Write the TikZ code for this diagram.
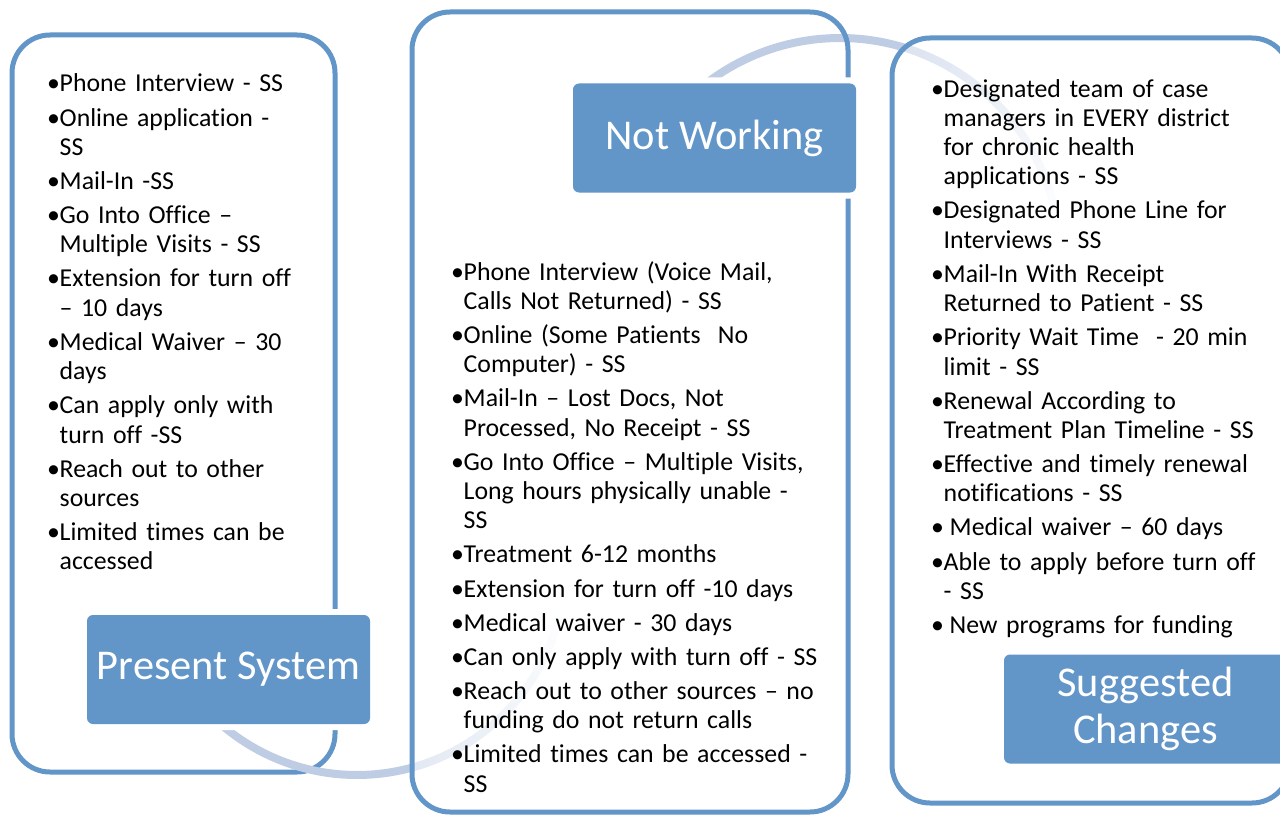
\documentclass[tikz,border=0pt]{standalone}
\usepackage{fontspec}
\setmainfont{Carlito}[Ligatures=NoCommon]
\definecolor{panelblue}{RGB}{98,149,200}
\definecolor{arcblue}{RGB}{191,205,228}
\def\bulind{12.5pt}
\newcommand\bul[1]{\hangindent=\bulind\hangafter=1\noindent\makebox[\bulind][l]{•}#1\par}
\newcommand\listskip{\setlength{\parskip}{4.8pt}}

\begin{document}
\begin{tikzpicture}[x=1pt, y=-1pt,
  panel/.style={draw=panelblue, line width=5pt, rounded corners=38pt, inner sep=0pt, outer sep=0pt},
  tagbox/.style={fill=panelblue, rounded corners=6pt, text=white, inner sep=0pt, minimum width=283pt, minimum height=109pt, align=center, font=\fontsize{42.4}{47}\selectfont, preaction={draw=white, line width=12pt}},
  itemlist/.style={anchor=base west, inner sep=0pt, text width=400pt, align=left, font=\fontsize{25.8}{29.3}\selectfont},
  cyclearc/.style={draw=arcblue, line width=8pt}]
\clip (0,0) rectangle (1280,816);
\coordinate (lowc) at (357,567);
\coordinate (highc) at (840,258);

\node[panel, minimum width=323pt, minimum height=737pt] (presentpanel) at (173.5,403.5) {};
\draw[cyclearc] (lowc) ++(132:208) arc[start angle=132, end angle=74.5, radius=208];
\foreach \i in {0,...,23}{
  \pgfmathtruncatemacro\pc{45-45*\i/24}
  \draw[draw=arcblue!\pc!white, line width=8pt] (lowc) ++({75-2.6*\i}:208) arc[start angle={75-2.6*\i}, end angle={75-2.6*\i-2.9}, radius=208];
}
\draw[cyclearc] (highc) ++(-130:220) arc[start angle=-130, end angle=-72.5, radius=220];
\node[panel, minimum width=436pt, minimum height=800pt] (notworkpanel) at (630,412) {};
\foreach \i in {0,...,23}{
  \pgfmathtruncatemacro\pc{55-55*\i/24}
  \draw[draw=arcblue!\pc!white, line width=8pt] (highc) ++({-73+2.625*\i}:220) arc[start angle={-73+2.625*\i}, end angle={-73+2.625*\i+2.9}, radius=220];
}
\node[panel, minimum width=398pt, minimum height=765pt] (changepanel) at (1091,420.5) {};

\node[tagbox] (present) at (228.5,669.5) {Present System};
\node[tagbox] (notwork) at (714.5,138) {Not Working};
\node[tagbox] (change) at (1145.5,709) {Suggested\\Changes};

\node[itemlist] (presentlist) at (47,92) {\listskip
\bul{Phone Interview - SS}
\bul{Online application -\newline SS}
\bul{Mail-In -SS}
\bul{Go Into Office –\newline Multiple Visits - SS}
\bul{Extension for turn off\newline – 10 days}
\bul{Medical Waiver – 30\newline days}
\bul{Can apply only with\newline turn off -SS}
\bul{Reach out to other\newline sources}
\bul{Limited times can be\newline accessed}};
\node[itemlist] (notworklist) at (451,280) {\listskip
\bul{Phone Interview (Voice Mail,\newline Calls Not Returned) - SS}
\bul{Online (Some Patients\ \ No\newline Computer) - SS}
\bul{Mail-In – Lost Docs, Not\newline Processed, No Receipt - SS}
\bul{Go Into Office – Multiple Visits,\newline Long hours physically unable -\newline SS}
\bul{Treatment 6-12 months}
\bul{Extension for turn off -10 days}
\bul{Medical waiver - 30 days}
\bul{Can only apply with turn off - SS}
\bul{Reach out to other sources – no\newline funding do not return calls}
\bul{Limited times can be accessed -\newline SS}};
\node[itemlist] (changelist) at (931,97) {\listskip
\bul{Designated team of case\newline managers in EVERY district\newline for chronic health\newline applications - SS}
\bul{Designated Phone Line for\newline Interviews - SS}
\bul{Mail-In With Receipt\newline Returned to Patient - SS}
\bul{Priority Wait Time\ \ - 20 min\newline limit - SS}
\bul{Renewal According to\newline Treatment Plan Timeline - SS}
\bul{Effective and timely renewal\newline notifications - SS}
\bul{\hspace{6pt}Medical waiver – 60 days}
\bul{Able to apply before turn off\newline - SS}
\bul{\hspace{6pt}New programs for funding}};
\end{tikzpicture}
\end{document}
